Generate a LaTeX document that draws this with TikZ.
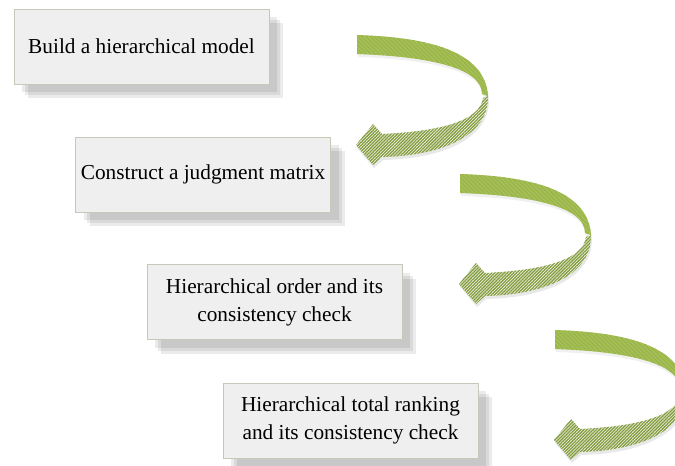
\documentclass[tikz,border=0pt]{standalone}
\usepackage{fontspec}
\setmainfont{Liberation Serif}
\usetikzlibrary{shadows,patterns.meta}
\definecolor{olivearrow}{RGB}{155,183,72}
\definecolor{olivehatch}{RGB}{130,155,62}
\definecolor{boxfill}{RGB}{239,239,239}
\definecolor{boxline}{RGB}{200,200,184}

\begin{document}
\begin{tikzpicture}[x=1pt,y=-1pt,
    stepbox/.style={draw=boxline, line width=0.8pt, fill=boxfill,
      minimum width=255pt, minimum height=75pt, inner sep=0pt, align=center,
      font=\fontsize{21.3}{28}\selectfont,
      drop shadow={fill=black, opacity=0.08, shadow xshift=14pt, shadow yshift=-14pt},
      drop shadow={fill=black, opacity=0.08, shadow xshift=11pt, shadow yshift=-11pt},
      drop shadow={fill=black, opacity=0.08, shadow xshift=8pt, shadow yshift=-8pt}},
    solidband/.style={fill=olivearrow,
      drop shadow={opacity=0.12, shadow xshift=1pt, shadow yshift=-3pt},
      postaction={pattern={Lines[angle=-45,distance=3pt,line width=0.9pt]}, pattern color=olivearrow!85!white}},
    hatchband/.style={fill=white!85!olivearrow,
      drop shadow={opacity=0.18, shadow xshift=1pt, shadow yshift=-3pt},
      postaction={pattern={Lines[angle=45,distance=2.2pt,line width=1.3pt]}, pattern color=olivehatch}}]
        \useasboundingbox (0,0) rectangle (675,466);
        \clip (0,0) rectangle (675,466);

        \foreach \ax/\ay in {357/35, 460/174, 555/330} {
          \begin{scope}[shift={(\ax,\ay)}]
            \fill [solidband] (0,0) .. controls (60,2) and (128,12) .. (131,61)
              -- (125,59) .. controls (125,30) and (60,21) .. (0,19) -- cycle;
            \fill [hatchband] (131,61) .. controls (132,103) and (80,121) .. (25,122)
              -- (16,130) -- (-1,110) -- (16,89) -- (25,99)
              .. controls (90,96) and (123,84) .. (126,63) -- cycle;
          \end{scope}
        }

        \node [stepbox] (model) at (141.5,46.5) {Build a hierarchical model};
        \node [stepbox] (matrix) at (203,174.5) {Construct a judgment matrix};
        \node [stepbox] (order) at (274.5,302) {Hierarchical order and its\\consistency check};
        \node [stepbox] (total) at (350.5,420.5) {Hierarchical total ranking\\and its consistency check};
      \end{tikzpicture}
\end{document}
